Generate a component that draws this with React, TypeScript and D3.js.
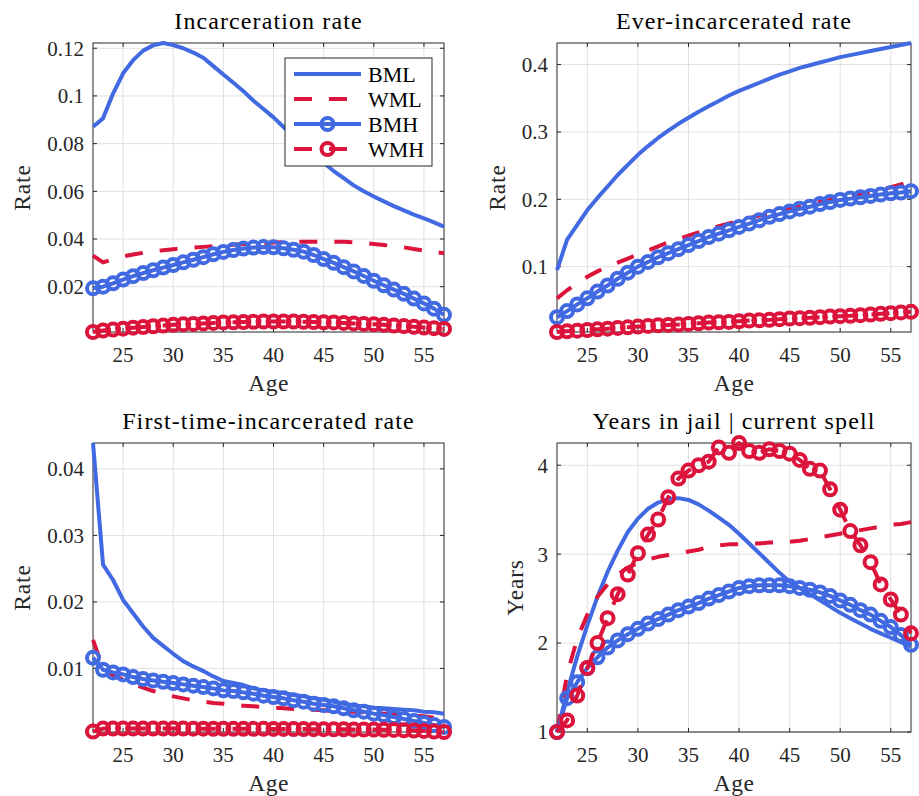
import React from 'react';
import * as d3 from 'd3';

const AGES = [22, 23, 24, 25, 26, 27, 28, 29, 30, 31, 32, 33, 34, 35, 36, 37, 38, 39, 40, 41, 42, 43, 44, 45, 46, 47, 48, 49, 50, 51, 52, 53, 54, 55, 56, 57];
const X_TICKS = [25, 30, 35, 40, 45, 50, 55];
const SERIES_NAMES = ['BML', 'WML', 'BMH', 'WMH'];

// Panel 1: Incarceration rate
const INC_BML = [0.0871, 0.0906, 0.1010, 0.1095, 0.1150, 0.1190, 0.1212, 0.1222, 0.1213, 0.1200, 0.1182, 0.1160, 0.1125, 0.1090, 0.1055, 0.1020, 0.0980, 0.0945, 0.0910, 0.0870, 0.0830, 0.0790, 0.0755, 0.0720, 0.0685, 0.0655, 0.0625, 0.0600, 0.0578, 0.0558, 0.0538, 0.0520, 0.0502, 0.0487, 0.0470, 0.0452];
const INC_WML = [0.0330, 0.0302, 0.0315, 0.0327, 0.0335, 0.0342, 0.0348, 0.0353, 0.0357, 0.0361, 0.0364, 0.0367, 0.0370, 0.0373, 0.0376, 0.0379, 0.0381, 0.0383, 0.0385, 0.0387, 0.0388, 0.0389, 0.0389, 0.0389, 0.0389, 0.0388, 0.0386, 0.0383, 0.0379, 0.0375, 0.0370, 0.0365, 0.0358, 0.0352, 0.0346, 0.0340];
const INC_BMH = [0.0193, 0.0200, 0.0214, 0.0230, 0.0244, 0.0257, 0.0269, 0.0280, 0.0291, 0.0302, 0.0313, 0.0324, 0.0336, 0.0346, 0.0354, 0.0360, 0.0364, 0.0366, 0.0365, 0.0361, 0.0355, 0.0347, 0.0333, 0.0316, 0.0300, 0.0282, 0.0264, 0.0245, 0.0225, 0.0206, 0.0188, 0.0170, 0.0150, 0.0130, 0.0108, 0.0082];
const INC_WMH = [0.0010, 0.0016, 0.0020, 0.0024, 0.0028, 0.0031, 0.0034, 0.0037, 0.0040, 0.0042, 0.0044, 0.0046, 0.0048, 0.0050, 0.0051, 0.0052, 0.0053, 0.0054, 0.0054, 0.0054, 0.0054, 0.0053, 0.0052, 0.0051, 0.0050, 0.0048, 0.0046, 0.0044, 0.0042, 0.0040, 0.0037, 0.0035, 0.0032, 0.0029, 0.0026, 0.0023];

// Panel 2: Ever-incarcerated rate
const EVER_BML = [0.095, 0.140, 0.162, 0.184, 0.202, 0.219, 0.236, 0.251, 0.266, 0.279, 0.291, 0.302, 0.312, 0.321, 0.330, 0.338, 0.346, 0.354, 0.361, 0.367, 0.373, 0.379, 0.385, 0.390, 0.395, 0.399, 0.403, 0.407, 0.411, 0.414, 0.417, 0.420, 0.423, 0.426, 0.429, 0.432];
const EVER_WML = [0.053, 0.065, 0.075, 0.085, 0.093, 0.100, 0.106, 0.112, 0.118, 0.124, 0.130, 0.136, 0.141, 0.146, 0.151, 0.156, 0.160, 0.164, 0.168, 0.172, 0.176, 0.179, 0.183, 0.186, 0.189, 0.192, 0.196, 0.199, 0.202, 0.205, 0.208, 0.211, 0.214, 0.218, 0.222, 0.227];
const EVER_BMH = [0.025, 0.034, 0.044, 0.053, 0.063, 0.072, 0.082, 0.091, 0.100, 0.107, 0.114, 0.120, 0.126, 0.132, 0.138, 0.144, 0.149, 0.154, 0.159, 0.164, 0.169, 0.174, 0.178, 0.182, 0.186, 0.189, 0.193, 0.196, 0.199, 0.201, 0.203, 0.205, 0.207, 0.209, 0.210, 0.212];
const EVER_WMH = [0.003, 0.004, 0.005, 0.006, 0.007, 0.008, 0.009, 0.010, 0.011, 0.012, 0.013, 0.0135, 0.014, 0.015, 0.016, 0.017, 0.0175, 0.018, 0.019, 0.020, 0.0205, 0.021, 0.022, 0.023, 0.0235, 0.024, 0.025, 0.026, 0.0265, 0.027, 0.028, 0.029, 0.030, 0.031, 0.032, 0.033];

// Panel 3: First-time-incarcerated rate
const FIRST_BML = [0.0439, 0.0256, 0.0233, 0.0203, 0.0183, 0.0163, 0.0146, 0.0134, 0.0122, 0.0111, 0.0103, 0.0096, 0.0088, 0.0081, 0.0078, 0.0075, 0.0070, 0.0067, 0.0065, 0.0063, 0.0060, 0.0058, 0.0055, 0.0053, 0.0050, 0.0047, 0.0044, 0.0043, 0.0041, 0.0040, 0.0039, 0.0038, 0.0037, 0.0035, 0.0034, 0.0032];
const FIRST_WML = [0.0143, 0.0100, 0.0090, 0.0083, 0.0077, 0.0071, 0.0066, 0.0062, 0.0058, 0.0055, 0.0052, 0.0050, 0.0048, 0.0047, 0.0045, 0.0044, 0.0043, 0.0042, 0.0041, 0.0040, 0.0039, 0.0038, 0.0038, 0.0037, 0.0036, 0.0036, 0.0035, 0.0034, 0.0033, 0.0032, 0.0031, 0.0030, 0.0029, 0.0028, 0.0026, 0.0023];
const FIRST_BMH = [0.0116, 0.0098, 0.0094, 0.0091, 0.0087, 0.0084, 0.0082, 0.0080, 0.0078, 0.0076, 0.0074, 0.0072, 0.0070, 0.0067, 0.0066, 0.0064, 0.0062, 0.0059, 0.0057, 0.0055, 0.0052, 0.0050, 0.0047, 0.0045, 0.0043, 0.0040, 0.0037, 0.0035, 0.0032, 0.0030, 0.0027, 0.0024, 0.0021, 0.0018, 0.0015, 0.0012];
const FIRST_WMH = [0.00050, 0.00095, 0.00095, 0.00095, 0.00095, 0.00095, 0.00095, 0.00095, 0.00095, 0.00095, 0.00094, 0.00094, 0.00093, 0.00093, 0.00092, 0.00092, 0.00091, 0.00091, 0.00090, 0.00090, 0.00089, 0.00088, 0.00087, 0.00086, 0.00085, 0.00085, 0.00083, 0.00082, 0.00080, 0.00078, 0.00075, 0.00070, 0.00065, 0.00060, 0.00050, 0.00044];

// Panel 4: Years in jail | current spell
const YRS_BML = [1.00, 1.45, 1.85, 2.20, 2.52, 2.80, 3.04, 3.25, 3.40, 3.51, 3.58, 3.62, 3.63, 3.61, 3.56, 3.49, 3.41, 3.33, 3.23, 3.12, 3.01, 2.90, 2.79, 2.69, 2.62, 2.55, 2.48, 2.41, 2.34, 2.28, 2.22, 2.16, 2.11, 2.06, 2.01, 1.96];
const YRS_WML = [1.00, 1.65, 2.05, 2.32, 2.52, 2.66, 2.77, 2.85, 2.90, 2.94, 2.97, 2.99, 3.01, 3.03, 3.05, 3.08, 3.10, 3.11, 3.11, 3.12, 3.12, 3.13, 3.13, 3.14, 3.15, 3.17, 3.19, 3.21, 3.23, 3.25, 3.27, 3.29, 3.31, 3.33, 3.34, 3.36];
const YRS_BMH = [1.00, 1.38, 1.56, 1.72, 1.84, 1.95, 2.03, 2.10, 2.16, 2.22, 2.27, 2.32, 2.37, 2.41, 2.45, 2.50, 2.54, 2.58, 2.62, 2.64, 2.65, 2.65, 2.65, 2.64, 2.62, 2.60, 2.57, 2.53, 2.48, 2.43, 2.37, 2.32, 2.25, 2.18, 2.09, 1.98];
const YRS_WMH = [1.00, 1.13, 1.41, 1.72, 2.00, 2.28, 2.55, 2.77, 3.01, 3.22, 3.39, 3.64, 3.85, 3.94, 4.00, 4.04, 4.20, 4.14, 4.25, 4.16, 4.14, 4.18, 4.16, 4.13, 4.06, 3.96, 3.94, 3.73, 3.50, 3.26, 3.10, 2.91, 2.66, 2.49, 2.32, 2.11];

const TICKS_INC = [0.02, 0.04, 0.06, 0.08, 0.1, 0.12];
const TICKLABELS_INC = ['0.02', '0.04', '0.06', '0.08', '0.1', '0.12'];
const TICKS_EVER = [0.1, 0.2, 0.3, 0.4];
const TICKLABELS_EVER = ['0.1', '0.2', '0.3', '0.4'];
const TICKS_FIRST = [0.01, 0.02, 0.03, 0.04];
const TICKLABELS_FIRST = ['0.01', '0.02', '0.03', '0.04'];
const TICKS_YRS = [1, 2, 3, 4];
const TICKLABELS_YRS = ['1', '2', '3', '4'];

const BLUE = '#4169E1';
const RED = '#DC143C';
const AXIS = '#262626';
const GRID = '#e0e0e0';
const LW = 4;
const DASH = '18,17';
const MR = 6;
const FONT = "'Liberation Serif', 'DejaVu Serif', serif";

type Box = { l: number; r: number; t: number; b: number };
type Panel = {
  title: string;
  ylabel: string;
  data: number[][];
  ticks: number[];
  tickLabels: string[];
  box: Box;
  ylabelX: number;
  legend: boolean;
};

const PANELS: Panel[] = [
  { title: 'Incarceration rate', ylabel: 'Rate', data: [INC_BML, INC_WML, INC_BMH, INC_WMH], ticks: TICKS_INC, tickLabels: TICKLABELS_INC, box: { l: 93, r: 444, t: 43, b: 332 }, ylabelX: 30, legend: true },
  { title: 'Ever-incarcerated rate', ylabel: 'Rate', data: [EVER_BML, EVER_WML, EVER_BMH, EVER_WMH], ticks: TICKS_EVER, tickLabels: TICKLABELS_EVER, box: { l: 557, r: 911, t: 43, b: 332 }, ylabelX: 505, legend: false },
  { title: 'First-time-incarcerated rate', ylabel: 'Rate', data: [FIRST_BML, FIRST_WML, FIRST_BMH, FIRST_WMH], ticks: TICKS_FIRST, tickLabels: TICKLABELS_FIRST, box: { l: 93, r: 444, t: 443, b: 732 }, ylabelX: 30, legend: false },
  { title: 'Years in jail | current spell', ylabel: 'Years', data: [YRS_BML, YRS_WML, YRS_BMH, YRS_WMH], ticks: TICKS_YRS, tickLabels: TICKLABELS_YRS, box: { l: 557, r: 911, t: 443, b: 732 }, ylabelX: 523, legend: false },
];

const STYLES = [
  { color: BLUE, dash: undefined as string | undefined, marker: false },
  { color: RED, dash: DASH, marker: false },
  { color: BLUE, dash: undefined as string | undefined, marker: true },
  { color: RED, dash: DASH, marker: true },
];

function Legend({ x0, y0 }: { x0: number; y0: number }) {
  const w = 147, h = 108, row = 25;
  return (
    <g>
      <rect x={x0} y={y0} width={w} height={h} fill="#fff" stroke={AXIS} strokeWidth={1} />
      {SERIES_NAMES.map((name, i) => {
        const s = STYLES[i];
        const cy = y0 + 16 + i * row;
        const lx1 = x0 + 9, lx2 = x0 + 76;
        return (
          <g key={name}>
            <line x1={lx1} x2={lx2} y1={cy} y2={cy} stroke={s.color} strokeWidth={LW} strokeDasharray={s.dash} />
            {s.marker && <circle cx={(lx1 + lx2) / 2} cy={cy} r={MR} fill="none" stroke={s.color} strokeWidth={LW} />}
            <text x={x0 + 83} y={cy} dy="0.35em" fontSize={22} fill="#000">{name}</text>
          </g>
        );
      })}
    </g>
  );
}

function PanelView({ p }: { p: Panel }) {
  const { l, r, t, b } = p.box;
  const x = d3.scaleLinear().domain([22, 57]).range([l, r]);
  const all = p.data.flat();
  const ext = d3.extent(all) as [number, number];
  const y = d3.scaleLinear().domain(ext).range([b, t]);
  const lineGen = d3.line<number>().x((_, i) => x(AGES[i])).y((d) => y(d));
  const tk = 4;
  return (
    <g>
      {X_TICKS.map((v) => (
        <line key={'gx' + v} x1={x(v)} x2={x(v)} y1={t} y2={b} stroke={GRID} strokeWidth={1} />
      ))}
      {p.ticks.map((v) => (
        <line key={'gy' + v} x1={l} x2={r} y1={y(v)} y2={y(v)} stroke={GRID} strokeWidth={1} />
      ))}
      <rect x={l} y={t} width={r - l} height={b - t} fill="none" stroke={AXIS} strokeWidth={1} />
      {X_TICKS.map((v) => (
        <g key={'tx' + v}>
          <line x1={x(v)} x2={x(v)} y1={b} y2={b - tk} stroke={AXIS} strokeWidth={1} />
          <line x1={x(v)} x2={x(v)} y1={t} y2={t + tk} stroke={AXIS} strokeWidth={1} />
          <text x={x(v)} y={b + 30} textAnchor="middle" fontSize={21} fill={AXIS}>{String(v)}</text>
        </g>
      ))}
      {p.ticks.map((v, i) => (
        <g key={'ty' + v}>
          <line x1={l} x2={l + tk} y1={y(v)} y2={y(v)} stroke={AXIS} strokeWidth={1} />
          <line x1={r} x2={r - tk} y1={y(v)} y2={y(v)} stroke={AXIS} strokeWidth={1} />
          <text x={l - 9} y={y(v)} dy="0.35em" textAnchor="end" fontSize={21} fill={AXIS}>{p.tickLabels[i]}</text>
        </g>
      ))}
      {p.data.map((vals, si) => {
        const s = STYLES[si];
        return (
          <g key={'s' + si}>
            <path d={lineGen(vals) || ''} fill="none" stroke={s.color} strokeWidth={LW} strokeDasharray={s.dash} strokeLinejoin="round" />
            {s.marker && vals.map((v, i) => (
              <circle key={i} cx={x(AGES[i])} cy={y(v)} r={MR} fill="none" stroke={s.color} strokeWidth={LW} />
            ))}
          </g>
        );
      })}
      <text x={(l + r) / 2} y={t - 14} textAnchor="middle" fontSize={24} letterSpacing={1.1} fill="#000">{p.title}</text>
      <text x={(l + r) / 2} y={b + 59} textAnchor="middle" fontSize={23.5} letterSpacing={0.5} fill={AXIS}>Age</text>
      <text transform={`translate(${p.ylabelX},${(t + b) / 2}) rotate(-90)`} textAnchor="middle" fontSize={23.5} letterSpacing={0.8} fill={AXIS}>{p.ylabel}</text>
      {p.legend && <Legend x0={285} y0={58} />}
    </g>
  );
}

export default function App() {
  const W = 919, H = 796;
  return (
    <svg width={W} height={H} style={{ position: 'absolute', left: 0, top: 0, display: 'block', fontFamily: FONT }} fontFamily={FONT}>
      <rect width={W} height={H} fill="#fff" />
      {PANELS.map((p) => <PanelView key={p.title} p={p} />)}
    </svg>
  );
}
